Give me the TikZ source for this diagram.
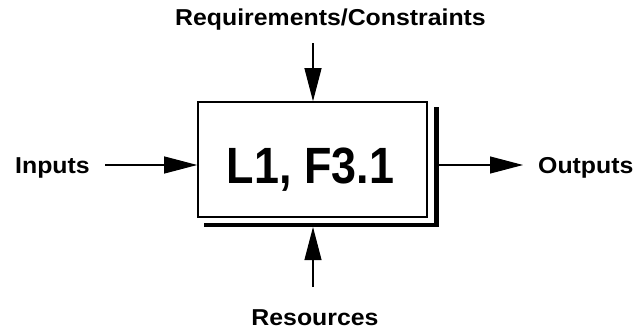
\documentclass[tikz,border=0pt]{standalone}
\usepackage{fontspec}
\setmainfont{Liberation Sans}
\newfontfamily\lblfont{Liberation Sans}[FakeStretch=1.08]
\newfontfamily\boxfont{Liberation Sans}[FakeStretch=0.88]
\usetikzlibrary{arrows.meta, positioning, calc}

\begin{document}
\begin{tikzpicture}[x=1pt, y=-1pt,
    lbl/.style={font=\lblfont\bfseries\fontsize{23}{23}\selectfont, inner sep=0pt},
    flow/.style={line width=1.1pt, -{Triangle[length=33pt, width=17pt]}},
    shadowline/.style={line width=4.5pt}]

\useasboundingbox (0,0) rectangle (641,332);

% --- the function box ---
\node[draw, line width=1.6pt, minimum width=229pt, minimum height=115pt,
      inner sep=0pt] (box) at (312.5,159.5) {};
\node[font=\boxfont\bfseries\fontsize{51}{51}\selectfont, inner sep=0pt,
      anchor=base] (boxlbl) at (310.5,183.3) {L1, F3.1};

% drop shadow
\coordinate (sh-bl) at ([xshift=7pt, yshift=-7pt]box.south west);
\coordinate (sh-tr) at ([xshift=8.5pt, yshift=-6pt]box.north east);
\draw[shadowline] (sh-bl) -| (sh-tr);

% --- labels ---
\node[lbl, anchor=base] (req) at (330.5,26) {Requirements/Constraints};
\node[lbl, anchor=base west] (inputs) at (15,173) {Inputs};
\node[lbl, anchor=base west] (outputs) at (538,173) {Outputs};
\node[lbl, anchor=base] (res) at (315,325) {Resources};

% --- arrows ---
\coordinate (req-a) at (313,43);
\draw[flow] (req-a) -- (req-a |- box.north);

\coordinate (in-a) at (105,165);
\draw[flow] (in-a) -- (in-a -| box.west);

\coordinate (out-a) at ([xshift=2.25pt]sh-tr |- in-a);
\coordinate (out-b) at (523,165);
\draw[flow] (out-a) -- (out-b);

\coordinate (res-a) at (313,287);
\draw[flow] (res-a) -- ([yshift=-2.25pt]res-a |- sh-bl);

\end{tikzpicture}
\end{document}
